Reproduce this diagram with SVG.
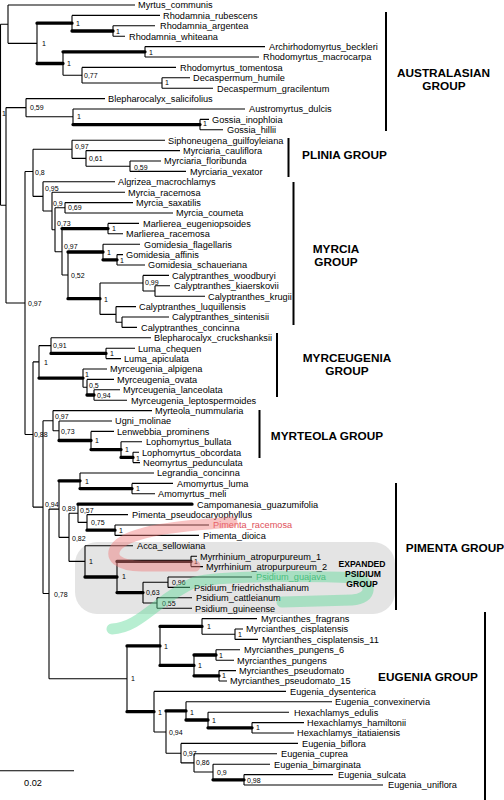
<svg xmlns="http://www.w3.org/2000/svg" width="504" height="800" viewBox="0 0 504 800">
<style>
.t{fill:none;stroke:#000;stroke-width:1.1}
.k{fill:none;stroke:#000;stroke-width:3.3;stroke-linecap:round}
.bar{fill:none;stroke:#000;stroke-width:2}
text{font-family:"Liberation Sans",Arial,sans-serif;fill:#000}
.l{font-size:9.2px}
.s{font-size:7px}
.g{font-size:11.8px;font-weight:bold;text-anchor:middle}
.e{font-size:8.6px;font-weight:bold;text-anchor:middle}
.band{fill:none;stroke-linecap:round;stroke-linejoin:round}
</style>
<rect id="psidium-box" x="75" y="542" width="320" height="72" rx="22" fill="#e4e4e4"/>
<g id="connectors">
<path class="t" d="M0.5,24.2V205.3M0.5,24.2H8M0.5,205.3H6M8,5V43.35M8,5H135M8,43.35H37M37,23.2V63.5M72,15.4V31M72,15.4H160M113,25.8V36.2M113,25.8H155M113,36.2H125M63,51.8V75.2M145,46.6V57M145,46.6H265M145,57H259M63,75.2H82M82,67.4V83M82,67.4H176M82,83H162M162,77.8V88.2M162,77.8H190M162,88.2H213
M6,107.6V303M6,107.6H26M26,98.6V116.8M26,98.6H105M26,116.8H73M73,109V124.6M73,109H245M200,119.4V129.8M200,119.4H209M200,129.8H223
M6,303H25M25,171.5V434.5M25,171.5H33M33,149.3V196.4M33,149.3H72M72,140.2V158.4M72,140.2H165M72,158.4H86M86,150.6V166.2M86,150.6H180M86,166.2H130M130,161V171.4M130,161H161M130,171.4H186
M33,196.4H43M43,181.8V211M43,181.8H115M43,211H52M52,192.2V229.8M52,192.2H125M52,229.8H55M55,207.8V251.8M55,207.8H65M55,251.8H62M65,202.6V213M65,202.6H133M65,213H173M62,228.6V275M62,275H68M108,223.4V233.8M108,223.4H139M108,233.8H123M68,252V298.7M103,244.2V259.8M103,244.2H140M117,254.6V265M117,254.6H123M117,265H145M100,283V314.4M100,283H143M100,314.4H116M143,275.4V291M143,275.4H169M143,291H155M155,285.8V296.2M155,285.8H170M155,296.2H205M116,306.6V322.2M116,306.6H136M116,322.2H122M122,317V327.4M122,317H169M122,327.4H137
M25,434.5H33M33,361.9V507.1M33,361.9H39M39,345.6V378.1M39,345.6H51M51,337.8V353.4M51,337.8H151M106,348.2V358.6M106,348.2H135M106,358.6H121M83,369V387.2M83,369H107M83,387.2H87M87,379.4V395M87,379.4H114M94,389.8V400.2M94,389.8H120M94,400.2H127
M33,507.1H43M43,420.7V593.5M43,420.7H53M53,410.6V430.75M53,410.6H152M53,430.75H59M59,421V440.5M59,421H112M91,431.4V449.6M91,431.4H114M121,441.8V457.4M121,441.8H142M133,452.2V462.6M133,452.2H139M133,462.6H140
M43,593.5H49M49,509.1V678.8M49,509.1H59M59,480.8V537.4M59,537.4H69M80,473V488.6M80,473H154M132,483.4V493.8M132,483.4H173M132,493.8H155M69,513.3V561.4M69,513.3H78M69,561.4H85M78,504.2V522.4M78,522.4H87M87,514.6V530.2M87,514.6H128M115,525V535.4M115,525H209M115,535.4H199M85,545.8V577M85,545.8H133M117,561.4V592.6M191,556.2V566.6M191,556.2H197M191,566.6H203M143,582.2V603M143,582.2H168M143,603H157M168,577V587.4M168,577H252M168,587.4H190M157,597.8V608.2M157,597.8H192M157,608.2H192
M49,678.8H127M127,645.9V711.7M160,626.4V665.4M202,618.6V634.2M202,618.6H257M202,634.2H235M235,629V639.4M235,629H243M235,639.4H258M194,655V675.8M216,649.8V660.2M216,649.8H240M216,660.2H234M219,670.6V681M219,670.6H236M219,681H227M154,691.4V732M154,691.4H286M154,732H166M166,710.9V753.2M166,753.2H181M186,701.8V720M186,701.8H332M208,712.2V727.8M208,712.2H289M252,722.6V733M252,722.6H304M252,733H294M181,743.4V762.9M181,743.4H298M181,762.9H194M194,753.8V772M194,753.8H277M194,772H213M213,764.2V779.8M213,764.2H270M244,774.6V785M244,774.6H333M244,785H383
M0,770.7H74"/>
<path class="k" d="M37,23.2H72M72,31H113M37,63.5H63M63,51.8H145M73,124.6H200M62,228.6H108M68,252H103M103,259.8H117M68,298.7H100M51,353.4H106M39,378.1H83M87,395H94M59,440.5H91M91,449.6H121M121,457.4H133M59,480.8H80M80,488.6H132M78,504.2H192M87,530.2H115M85,577H117M117,561.4H191M117,592.6H143M127,645.9H160M160,626.4H202M160,665.4H194M194,655H216M194,675.8H219M127,711.7H154M166,710.9H186M186,720H208M208,727.8H252M213,779.8H244"/>
</g>
<g id="supports" class="s">
<text class="s" x="2" y="116">1</text>
<text class="s" x="42" y="46">1</text>
<text class="s" x="76" y="26">1</text>
<text class="s" x="116" y="34">1</text>
<text class="s" x="67" y="66">1</text>
<text class="s" x="149" y="54.5">1</text>
<text class="s" x="84" y="77.5">0,77</text>
<text class="s" x="165" y="85">1</text>
<text class="s" x="30" y="110">0,59</text>
<text class="s" x="77" y="119">1</text>
<text class="s" x="203" y="126">1</text>
<text class="s" x="28" y="306">0,97</text>
<text class="s" x="35" y="175">0,8</text>
<text class="s" x="75" y="149">0,97</text>
<text class="s" x="89" y="161">0,61</text>
<text class="s" x="134" y="170">0,59</text>
<text class="s" x="45" y="191">0,95</text>
<text class="s" x="53" y="206">0,9</text>
<text class="s" x="68" y="210">0,69</text>
<text class="s" x="57" y="226">0,73</text>
<text class="s" x="112" y="230.5">1</text>
<text class="s" x="64" y="249">0,97</text>
<text class="s" x="107" y="254.5">1</text>
<text class="s" x="120" y="262.5">1</text>
<text class="s" x="71" y="278">0,52</text>
<text class="s" x="104" y="301.5">1</text>
<text class="s" x="145" y="285">0,99</text>
<text class="s" x="44" y="364.5">1</text>
<text class="s" x="53" y="348">0,91</text>
<text class="s" x="110" y="356">1</text>
<text class="s" x="85" y="377">1</text>
<text class="s" x="89" y="388">0,5</text>
<text class="s" x="97" y="398">0,94</text>
<text class="s" x="34" y="437">0,88</text>
<text class="s" x="55" y="419">0,97</text>
<text class="s" x="61" y="434">0,73</text>
<text class="s" x="95" y="443">1</text>
<text class="s" x="125" y="452">1</text>
<text class="s" x="136" y="461">1</text>
<text class="s" x="45" y="507">0,94</text>
<text class="s" x="62" y="511">0,89</text>
<text class="s" x="85" y="483.5">1</text>
<text class="s" x="136" y="491">1</text>
<text class="s" x="80" y="513">0,57</text>
<text class="s" x="91" y="525">0,75</text>
<text class="s" x="119" y="533">1</text>
<text class="s" x="72" y="541">0,82</text>
<text class="s" x="89" y="564">1</text>
<text class="s" x="122" y="579">1</text>
<text class="s" x="194" y="564">1</text>
<text class="s" x="146" y="595">0,63</text>
<text class="s" x="172" y="585">0,96</text>
<text class="s" x="162" y="606">0,55</text>
<text class="s" x="54" y="597">0,78</text>
<text class="s" x="131" y="681">1</text>
<text class="s" x="164" y="649">1</text>
<text class="s" x="207" y="629">1</text>
<text class="s" x="238" y="637">1</text>
<text class="s" x="198" y="668">1</text>
<text class="s" x="219" y="658">1</text>
<text class="s" x="222" y="678">1</text>
<text class="s" x="158" y="714.5">1</text>
<text class="s" x="169" y="735">0,94</text>
<text class="s" x="190" y="715">1</text>
<text class="s" x="212" y="723">1</text>
<text class="s" x="256" y="730">1</text>
<text class="s" x="183" y="756">0,97</text>
<text class="s" x="196" y="765">0,86</text>
<text class="s" x="217" y="775">0,9</text>
<text class="s" x="247" y="782.5">0,98</text>
</g>
<g id="taxa">
<g id="n0"><text class="l" x="138" y="8.3">Myrtus_communis</text></g>
<g id="n1"><text class="l" x="163" y="18.7">Rhodamnia_rubescens</text></g>
<g id="n2"><text class="l" x="160" y="29.1">Rhodamnia_argentea</text></g>
<g id="n3"><text class="l" x="129" y="39.5">Rhodamnia_whiteana</text></g>
<g id="n4"><text class="l" x="269" y="49.9">Archirhodomyrtus_beckleri</text></g>
<g id="n5"><text class="l" x="263" y="60.3">Rhodomyrtus_macrocarpa</text></g>
<g id="n6"><text class="l" x="180" y="70.7">Rhodomyrtus_tomentosa</text></g>
<g id="n7"><text class="l" x="193" y="81.1">Decaspermum_humile</text></g>
<g id="n8"><text class="l" x="217" y="91.5">Decaspermum_gracilentum</text></g>
<g id="n9"><text class="l" x="108" y="101.9">Blepharocalyx_salicifolius</text></g>
<g id="n10"><text class="l" x="249" y="112.3">Austromyrtus_dulcis</text></g>
<g id="n11"><text class="l" x="212" y="122.7">Gossia_inophloia</text></g>
<g id="n12"><text class="l" x="227" y="133.1">Gossia_hillii</text></g>
<g id="n13"><text class="l" x="168" y="143.5">Siphoneugena_guilfoyleiana</text></g>
<g id="n14"><text class="l" x="183" y="153.9">Myrciaria_cauliflora</text></g>
<g id="n15"><text class="l" x="164" y="164.3">Myrciaria_floribunda</text></g>
<g id="n16"><text class="l" x="190" y="174.7">Myrciaria_vexator</text></g>
<g id="n17"><text class="l" x="118" y="185.1">Algrizea_macrochlamys</text></g>
<g id="n18"><text class="l" x="128" y="195.5">Myrcia_racemosa</text></g>
<g id="n19"><text class="l" x="136" y="205.9">Myrcia_saxatilis</text></g>
<g id="n20"><text class="l" x="176" y="216.3">Myrcia_coumeta</text></g>
<g id="n21"><text class="l" x="143" y="226.7">Marlierea_eugeniopsoides</text></g>
<g id="n22"><text class="l" x="126" y="237.1">Marlierea_racemosa</text></g>
<g id="n23"><text class="l" x="144" y="247.5">Gomidesia_flagellaris</text></g>
<g id="n24"><text class="l" x="126" y="257.9">Gomidesia_affinis</text></g>
<g id="n25"><text class="l" x="148" y="268.3">Gomidesia_schaueriana</text></g>
<g id="n26"><text class="l" x="172" y="278.7">Calyptranthes_woodburyi</text></g>
<g id="n27"><text class="l" x="174" y="289.1">Calyptranthes_kiaerskovii</text></g>
<g id="n28"><text class="l" x="208" y="299.5">Calyptranthes_krugii</text></g>
<g id="n29"><text class="l" x="139" y="309.9">Calyptranthes_luquillensis</text></g>
<g id="n30"><text class="l" x="172" y="320.3">Calyptranthes_sintenisii</text></g>
<g id="n31"><text class="l" x="141" y="330.7">Calyptranthes_concinna</text></g>
<g id="n32"><text class="l" x="154" y="341.1">Blepharocalyx_cruckshanksii</text></g>
<g id="n33"><text class="l" x="138" y="351.5">Luma_chequen</text></g>
<g id="n34"><text class="l" x="124" y="361.9">Luma_apiculata</text></g>
<g id="n35"><text class="l" x="110" y="372.3">Myrceugenia_alpigena</text></g>
<g id="n36"><text class="l" x="117" y="382.7">Myrceugenia_ovata</text></g>
<g id="n37"><text class="l" x="123" y="393.1">Myrceugenia_lanceolata</text></g>
<g id="n38"><text class="l" x="131" y="403.5">Myrceugenia_leptospermoides</text></g>
<g id="n39"><text class="l" x="155" y="413.9">Myrteola_nummularia</text></g>
<g id="n40"><text class="l" x="115" y="424.3">Ugni_molinae</text></g>
<g id="n41"><text class="l" x="117" y="434.7">Lenwebbia_prominens</text></g>
<g id="n42"><text class="l" x="146" y="445.1">Lophomyrtus_bullata</text></g>
<g id="n43"><text class="l" x="142" y="455.5">Lophomyrtus_obcordata</text></g>
<g id="n44"><text class="l" x="143" y="465.9">Neomyrtus_pedunculata</text></g>
<g id="n45"><text class="l" x="157" y="476.3">Legrandia_concinna</text></g>
<g id="n46"><text class="l" x="177" y="486.7">Amomyrtus_luma</text></g>
<g id="n47"><text class="l" x="158" y="497.1">Amomyrtus_meli</text></g>
<g id="n48"><text class="l" x="197" y="507.5">Campomanesia_guazumifolia</text></g>
<g id="n49"><text class="l" x="132" y="517.9">Pimenta_pseudocaryophyllus</text></g>
<g id="n50"><text class="l" x="213" y="528.3" fill="#e0505a" style="fill:#e0505a">Pimenta_racemosa</text></g>
<g id="n51"><text class="l" x="203" y="538.7">Pimenta_dioica</text></g>
<g id="n52"><text class="l" x="137" y="549.1">Acca_sellowiana</text></g>
<g id="n53"><text class="l" x="200" y="559.5">Myrrhinium_atropurpureum_1</text></g>
<g id="n54"><text class="l" x="206" y="569.9">Myrrhinium_atropurpureum_2</text></g>
<g id="n55"><text class="l" x="256" y="580.3" style="fill:#34a865">Psidium_guajava</text></g>
<g id="n56"><text class="l" x="194" y="590.7">Psidium_friedrichsthalianum</text></g>
<g id="n57"><text class="l" x="196" y="601.1">Psidium_cattleianum</text></g>
<g id="n58"><text class="l" x="195" y="611.5">Psidium_guineense</text></g>
<g id="n59"><text class="l" x="261" y="621.9">Myrcianthes_fragrans</text></g>
<g id="n60"><text class="l" x="246" y="632.3">Myrcianthes_cisplatensis</text></g>
<g id="n61"><text class="l" x="262" y="642.7">Myrcianthes_cisplatensis_11</text></g>
<g id="n62"><text class="l" x="244" y="653.1">Myrcianthes_pungens_6</text></g>
<g id="n63"><text class="l" x="237" y="663.5">Myrcianthes_pungens</text></g>
<g id="n64"><text class="l" x="239" y="673.9">Myrcianthes_pseudomato</text></g>
<g id="n65"><text class="l" x="230" y="684.3">Myrcianthes_pseudomato_15</text></g>
<g id="n66"><text class="l" x="290" y="694.7">Eugenia_dysenterica</text></g>
<g id="n67"><text class="l" x="335" y="705.1">Eugenia_convexinervia</text></g>
<g id="n68"><text class="l" x="294" y="715.5">Hexachlamys_edulis</text></g>
<g id="n69"><text class="l" x="307" y="725.9">Hexachlamys_hamiltonii</text></g>
<g id="n70"><text class="l" x="297" y="736.3">Hexachlamys_itatiaiensis</text></g>
<g id="n71"><text class="l" x="302" y="746.7">Eugenia_biflora</text></g>
<g id="n72"><text class="l" x="281" y="757.1">Eugenia_cuprea</text></g>
<g id="n73"><text class="l" x="274" y="767.5">Eugenia_bimarginata</text></g>
<g id="n74"><text class="l" x="338" y="777.9">Eugenia_sulcata</text></g>
<g id="n75"><text class="l" x="388" y="788.3">Eugenia_uniflora</text></g>
</g>
<g id="highlights">
<path class="band" stroke="#f07a7a" stroke-opacity="0.45" stroke-width="11" d="M232,522C180,526 132,530 117,546C108,557 118,566 142,566L195,566"/>
<path class="band" stroke="#5fd99a" stroke-opacity="0.45" stroke-width="11" d="M112,629C140,628 158,598 195,582C225,575 320,576 355,578C373,581 373,599 352,600L282,602"/>
</g>
<g id="groups">
<g id="grp-australasian"><path class="bar" d="M386,12V131"/><text class="g" x="443.5" y="76.5">AUSTRALASIAN</text><text class="g" x="444" y="89.5">GROUP</text></g>
<g id="grp-plinia"><path class="bar" d="M288.5,138V177"/><text class="g" x="344.5" y="159">PLINIA GROUP</text></g>
<g id="grp-myrcia"><path class="bar" d="M293.5,182V325"/><text class="g" x="336" y="253">MYRCIA</text><text class="g" x="336" y="266">GROUP</text></g>
<g id="grp-myrceugenia"><path class="bar" d="M277,333V397"/><text class="g" x="347" y="361.5">MYRCEUGENIA</text><text class="g" x="347" y="374.5">GROUP</text></g>
<g id="grp-myrteola"><path class="bar" d="M259.5,410V458"/><text class="g" x="327" y="440">MYRTEOLA GROUP</text></g>
<g id="grp-pimenta"><path class="bar" d="M396,483V610"/><text class="g" x="455" y="551.5">PIMENTA GROUP</text></g>
<g id="grp-psidium"><text class="e" x="362" y="566.7">EXPANDED</text><text class="e" x="363" y="576.7">PSIDIUM</text><text class="e" x="362" y="586.7">GROUP</text></g>
<g id="grp-eugenia"><path class="bar" d="M485,612V800"/><text class="g" x="428" y="680.5">EUGENIA GROUP</text></g>
</g>
<g id="scale"><text class="l" x="33" y="786" text-anchor="middle">0.02</text></g>
</svg>
